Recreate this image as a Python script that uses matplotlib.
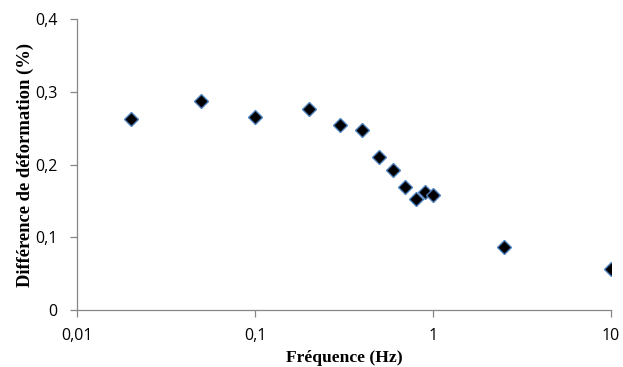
import numpy as np
import matplotlib.pyplot as plt
from matplotlib.ticker import FixedLocator

freq = [0.02, 0.05, 0.1, 0.2, 0.3, 0.4, 0.5, 0.6, 0.7, 0.8, 0.9, 1.0, 2.5, 10]
diff = [0.263, 0.287, 0.265, 0.276, 0.254, 0.247, 0.210, 0.192, 0.169, 0.153, 0.162, 0.158, 0.087, 0.056]
x_ticks = [0.01, 0.1, 1, 10]
x_labels = ["0,01", "0,1", "1", "10"]
y_ticks = [0, 0.1, 0.2, 0.3, 0.4]
y_labels = ["0", "0,1", "0,2", "0,3", "0,4"]


def make_plot():
    fig = plt.figure(figsize=(6.23, 3.67), dpi=100)
    ax = fig.add_axes([0.1236, 0.155, 0.857, 0.793])
    ax.plot(freq, diff, linestyle="none", marker="D", markersize=7.5,
            markerfacecolor="black", markeredgecolor="#4F81BD", markeredgewidth=1.0)
    ax.set_xscale("log")
    ax.set_xlim(0.01, 10)
    ax.set_ylim(0, 0.4)
    ax.xaxis.set_major_locator(FixedLocator(x_ticks))
    ax.xaxis.set_minor_locator(FixedLocator([]))
    ax.set_xticklabels(x_labels)
    ax.set_yticks(y_ticks)
    ax.set_yticklabels(y_labels)

    for side in ["top", "right"]:
        ax.spines[side].set_visible(False)
    for side in ["left", "bottom"]:
        ax.spines[side].set_color("#878787")
        ax.spines[side].set_linewidth(0.9)
    ax.tick_params(direction="out", length=5, width=0.9, color="#878787",
                   labelsize=11.5, labelcolor="black")
    ax.tick_params(axis="x", pad=8)
    ax.tick_params(axis="y", pad=9)
    for lab in ax.get_xticklabels() + ax.get_yticklabels():
        lab.set_family("Open Sans")

    ax.set_xlabel("Fréquence (Hz)", family="Liberation Serif", fontweight="bold",
                  fontsize=12.6, labelpad=4)
    ax.set_ylabel("Différence de déformation (%)", family="Liberation Serif",
                  fontweight="bold", fontsize=13.4, labelpad=1)
    fig.savefig("out.png", dpi=100)


if __name__ == "__main__":
    make_plot()
